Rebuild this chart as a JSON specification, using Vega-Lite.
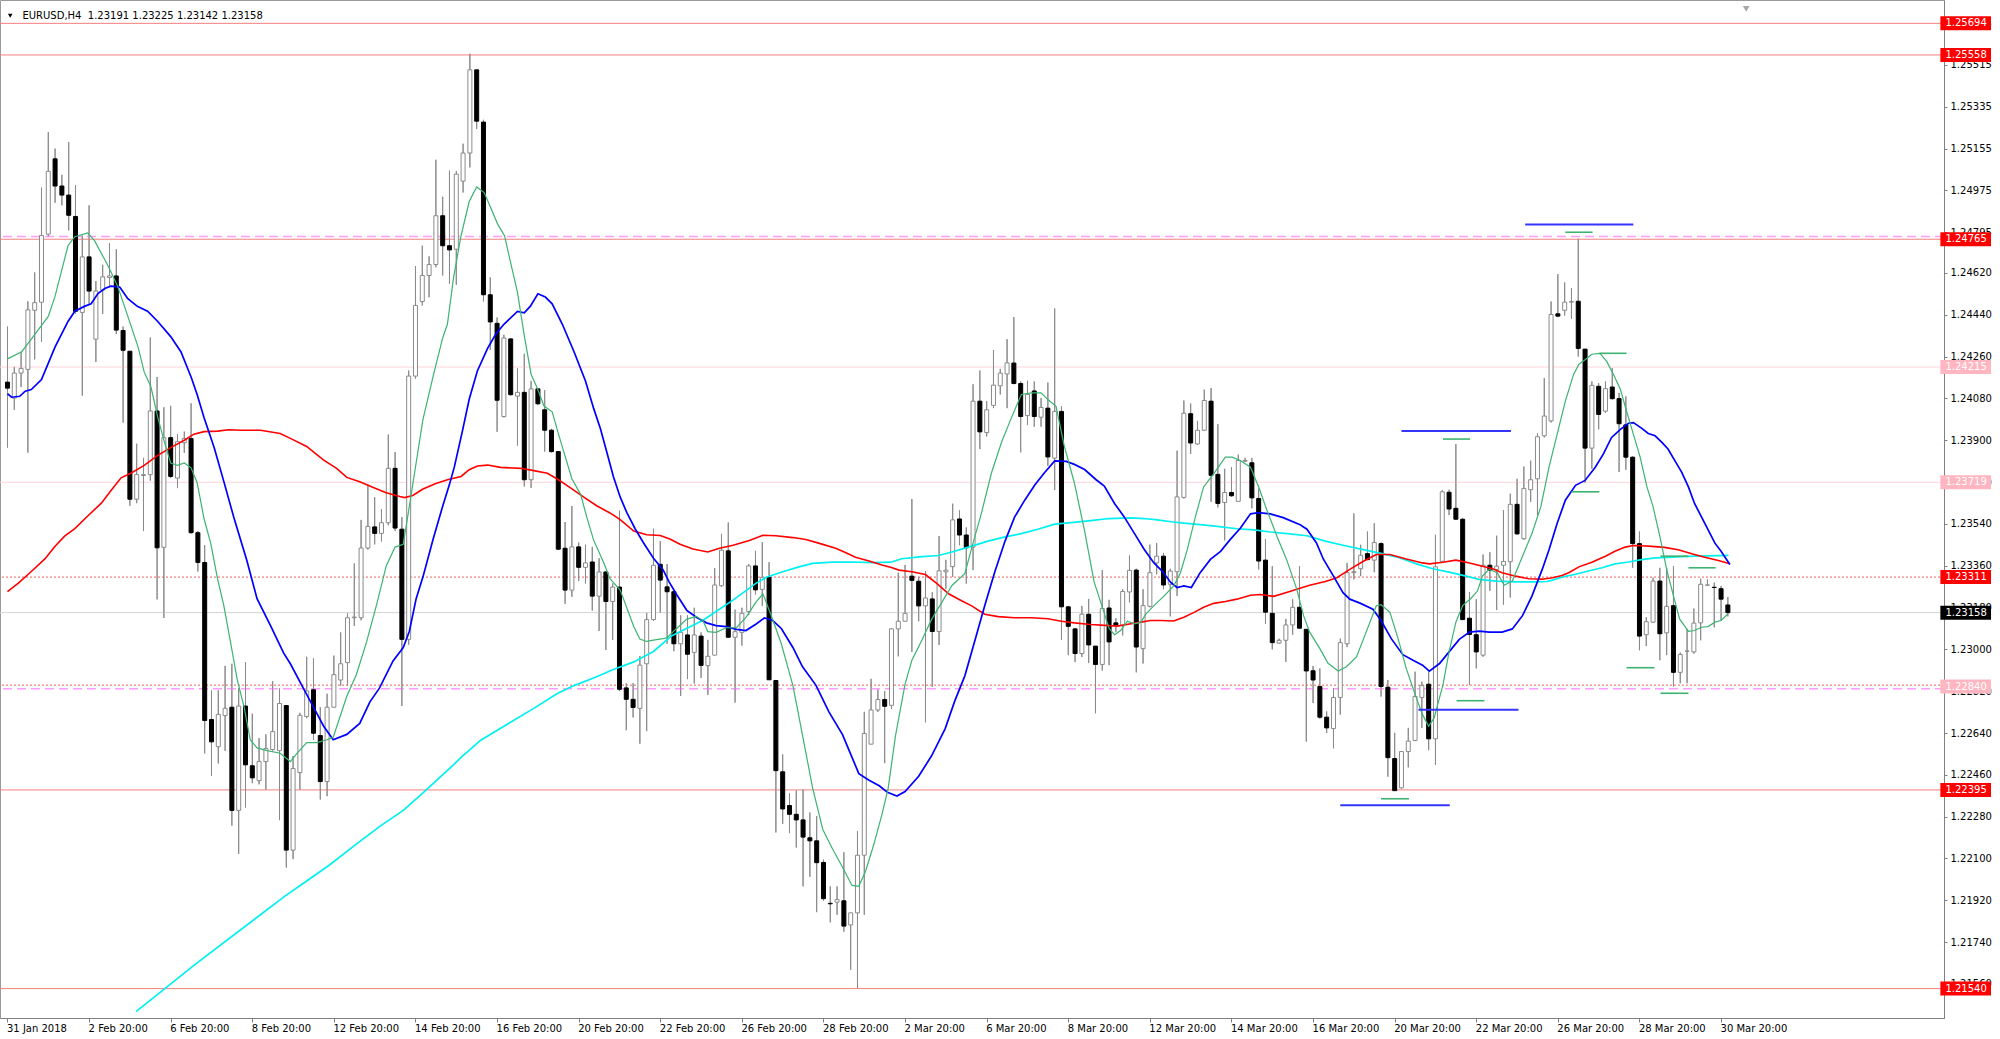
{
"$schema":"https://vega.github.io/schema/vega-lite/v6.json",
"width":1944,"height":1018,
"autosize":{"type":"none"},
"padding":{"left":0,"top":0,"right":56,"bottom":21},
"background":"#ffffff",
"config":{"view":{"stroke":"#9a9a9a","strokeWidth":1},"font":"DejaVu Sans","text":{"font":"DejaVu Sans"}},
"datasets":{
"candles":[
{"i":0,"o":1.2415,"h":1.24389,"l":1.23868,"c":1.24124},
{"i":1,"o":1.24081,"h":1.24216,"l":1.24031,"c":1.24189},
{"i":2,"o":1.24189,"h":1.24281,"l":1.24129,"c":1.24209},
{"i":3,"o":1.24205,"h":1.24498,"l":1.23846,"c":1.24461},
{"i":4,"o":1.24459,"h":1.24622,"l":1.24248,"c":1.24492},
{"i":5,"o":1.24494,"h":1.24987,"l":1.24324,"c":1.24781},
{"i":6,"o":1.24787,"h":1.25226,"l":1.24776,"c":1.25057},
{"i":7,"o":1.25111,"h":1.25155,"l":1.24922,"c":1.24994},
{"i":8,"o":1.24994,"h":1.25042,"l":1.24911,"c":1.24955},
{"i":9,"o":1.24955,"h":1.25183,"l":1.24803,"c":1.24868},
{"i":10,"o":1.24863,"h":1.24998,"l":1.24444,"c":1.24455},
{"i":11,"o":1.2445,"h":1.24781,"l":1.24092,"c":1.24689},
{"i":12,"o":1.24689,"h":1.24911,"l":1.24487,"c":1.24542},
{"i":13,"o":1.24335,"h":1.24585,"l":1.24237,"c":1.24542},
{"i":14,"o":1.24546,"h":1.24655,"l":1.24444,"c":1.24603},
{"i":15,"o":1.246,"h":1.24748,"l":1.24563,"c":1.24607},
{"i":16,"o":1.24607,"h":1.24722,"l":1.24357,"c":1.24374},
{"i":17,"o":1.24372,"h":1.24389,"l":1.23976,"c":1.24287},
{"i":18,"o":1.24283,"h":1.24283,"l":1.23618,"c":1.23646},
{"i":19,"o":1.23646,"h":1.23885,"l":1.23629,"c":1.23752},
{"i":20,"o":1.23748,"h":1.23824,"l":1.23509,"c":1.23752},
{"i":21,"o":1.23752,"h":1.24342,"l":1.23726,"c":1.24026},
{"i":22,"o":1.24026,"h":1.24172,"l":1.23215,"c":1.23437},
{"i":23,"o":1.23439,"h":1.24042,"l":1.23135,"c":1.23911},
{"i":24,"o":1.23911,"h":1.24048,"l":1.23737,"c":1.23744},
{"i":25,"o":1.23737,"h":1.23926,"l":1.23694,"c":1.23894},
{"i":26,"o":1.23889,"h":1.23937,"l":1.23846,"c":1.23907},
{"i":27,"o":1.23907,"h":1.24059,"l":1.23498,"c":1.23502},
{"i":28,"o":1.23502,"h":1.23509,"l":1.23335,"c":1.23374},
{"i":29,"o":1.23374,"h":1.23448,"l":1.22552,"c":1.22694},
{"i":30,"o":1.22698,"h":1.22824,"l":1.22455,"c":1.22602},
{"i":31,"o":1.22581,"h":1.22824,"l":1.22509,"c":1.2272},
{"i":32,"o":1.22715,"h":1.22929,"l":1.22563,"c":1.22746},
{"i":33,"o":1.22751,"h":1.22938,"l":1.22241,"c":1.22307},
{"i":34,"o":1.22307,"h":1.22833,"l":1.2212,"c":1.22756},
{"i":35,"o":1.22756,"h":1.22945,"l":1.22319,"c":1.22503},
{"i":36,"o":1.22499,"h":1.22723,"l":1.22424,"c":1.22447},
{"i":37,"o":1.22435,"h":1.22618,"l":1.22419,"c":1.22517},
{"i":38,"o":1.22517,"h":1.22634,"l":1.22396,"c":1.22573},
{"i":39,"o":1.22569,"h":1.22863,"l":1.22564,"c":1.22646},
{"i":40,"o":1.22564,"h":1.22833,"l":1.22265,"c":1.22767},
{"i":41,"o":1.22758,"h":1.22758,"l":1.22061,"c":1.22136},
{"i":42,"o":1.22136,"h":1.22541,"l":1.22097,"c":1.22487},
{"i":43,"o":1.2247,"h":1.22727,"l":1.22396,"c":1.22716},
{"i":44,"o":1.22711,"h":1.22968,"l":1.22704,"c":1.22821},
{"i":45,"o":1.22826,"h":1.22961,"l":1.22611,"c":1.22639},
{"i":46,"o":1.22629,"h":1.22751,"l":1.22354,"c":1.22431},
{"i":47,"o":1.22431,"h":1.22809,"l":1.22368,"c":1.22751},
{"i":48,"o":1.22751,"h":1.22973,"l":1.22751,"c":1.22891},
{"i":49,"o":1.22868,"h":1.23073,"l":1.22844,"c":1.22938},
{"i":50,"o":1.22943,"h":1.23155,"l":1.22844,"c":1.23136},
{"i":51,"o":1.23136,"h":1.2337,"l":1.23101,"c":1.23139},
{"i":52,"o":1.23136,"h":1.23557,"l":1.23125,"c":1.23436},
{"i":53,"o":1.23436,"h":1.23709,"l":1.23429,"c":1.23529},
{"i":54,"o":1.23527,"h":1.23655,"l":1.23452,"c":1.23499},
{"i":55,"o":1.23499,"h":1.23604,"l":1.23464,"c":1.23545},
{"i":56,"o":1.23545,"h":1.23924,"l":1.23534,"c":1.23779},
{"i":57,"o":1.23779,"h":1.23849,"l":1.2351,"c":1.23522},
{"i":58,"o":1.23517,"h":1.23569,"l":1.22756,"c":1.23043},
{"i":59,"o":1.23043,"h":1.242,"l":1.2302,"c":1.24176},
{"i":60,"o":1.24176,"h":1.24649,"l":1.24165,"c":1.2448},
{"i":61,"o":1.24497,"h":1.24737,"l":1.2448,"c":1.24609},
{"i":62,"o":1.24609,"h":1.24691,"l":1.24515,"c":1.24656},
{"i":63,"o":1.24656,"h":1.25107,"l":1.24644,"c":1.24866},
{"i":64,"o":1.24866,"h":1.24948,"l":1.24609,"c":1.24737},
{"i":65,"o":1.24737,"h":1.2506,"l":1.24574,"c":1.24719},
{"i":66,"o":1.24722,"h":1.25058,"l":1.24569,"c":1.25045},
{"i":67,"o":1.25015,"h":1.25176,"l":1.24966,"c":1.25136},
{"i":68,"o":1.25136,"h":1.25563,"l":1.25074,"c":1.25494},
{"i":69,"o":1.25494,"h":1.25494,"l":1.2524,"c":1.25273},
{"i":70,"o":1.25269,"h":1.25279,"l":1.24497,"c":1.24526},
{"i":71,"o":1.24526,"h":1.24601,"l":1.24288,"c":1.24409},
{"i":72,"o":1.24403,"h":1.24428,"l":1.23936,"c":1.24072},
{"i":73,"o":1.24002,"h":1.24354,"l":1.23998,"c":1.2434},
{"i":74,"o":1.24336,"h":1.2434,"l":1.24092,"c":1.24096},
{"i":75,"o":1.2409,"h":1.24209,"l":1.23877,"c":1.24106},
{"i":76,"o":1.24106,"h":1.24272,"l":1.23701,"c":1.2373},
{"i":77,"o":1.2373,"h":1.24155,"l":1.23695,"c":1.24121},
{"i":78,"o":1.24121,"h":1.24121,"l":1.24051,"c":1.24057},
{"i":79,"o":1.24031,"h":1.24115,"l":1.23851,"c":1.23943},
{"i":80,"o":1.23943,"h":1.23949,"l":1.23847,"c":1.23851},
{"i":81,"o":1.23851,"h":1.23851,"l":1.23427,"c":1.23431},
{"i":82,"o":1.23435,"h":1.23548,"l":1.23196,"c":1.23255},
{"i":83,"o":1.23255,"h":1.23617,"l":1.23226,"c":1.23441},
{"i":84,"o":1.23441,"h":1.2346,"l":1.23294,"c":1.23353},
{"i":85,"o":1.23353,"h":1.2345,"l":1.23284,"c":1.23372},
{"i":86,"o":1.23376,"h":1.23441,"l":1.23167,"c":1.23229},
{"i":87,"o":1.23229,"h":1.23392,"l":1.23079,"c":1.23333},
{"i":88,"o":1.23333,"h":1.23337,"l":1.22997,"c":1.23206},
{"i":89,"o":1.23206,"h":1.23284,"l":1.2304,"c":1.23268},
{"i":90,"o":1.23268,"h":1.23597,"l":1.2282,"c":1.22828},
{"i":91,"o":1.22834,"h":1.22854,"l":1.22652,"c":1.22785},
{"i":92,"o":1.22785,"h":1.22854,"l":1.22707,"c":1.2275},
{"i":93,"o":1.22746,"h":1.22971,"l":1.22594,"c":1.22932},
{"i":94,"o":1.22938,"h":1.23157,"l":1.22648,"c":1.23128},
{"i":95,"o":1.23128,"h":1.23519,"l":1.23122,"c":1.23362},
{"i":96,"o":1.23366,"h":1.23466,"l":1.23157,"c":1.23298},
{"i":97,"o":1.23269,"h":1.23367,"l":1.23024,"c":1.23248},
{"i":98,"o":1.23248,"h":1.23253,"l":1.22992,"c":1.23024},
{"i":99,"o":1.23024,"h":1.23147,"l":1.22799,"c":1.23073},
{"i":100,"o":1.23062,"h":1.23147,"l":1.22872,"c":1.22979},
{"i":101,"o":1.22987,"h":1.23179,"l":1.22853,"c":1.23062},
{"i":102,"o":1.23057,"h":1.23073,"l":1.22877,"c":1.22931},
{"i":103,"o":1.2293,"h":1.23041,"l":1.22804,"c":1.2297},
{"i":104,"o":1.22975,"h":1.2335,"l":1.22975,"c":1.23277},
{"i":105,"o":1.23274,"h":1.23497,"l":1.23269,"c":1.23427},
{"i":106,"o":1.23424,"h":1.23546,"l":1.23049,"c":1.23052},
{"i":107,"o":1.23052,"h":1.23171,"l":1.22771,"c":1.23076},
{"i":108,"o":1.23073,"h":1.23179,"l":1.23016,"c":1.23155},
{"i":109,"o":1.23163,"h":1.23367,"l":1.23147,"c":1.23359},
{"i":110,"o":1.23359,"h":1.23424,"l":1.23236,"c":1.23256},
{"i":111,"o":1.23258,"h":1.23461,"l":1.23187,"c":1.2331},
{"i":112,"o":1.2331,"h":1.23375,"l":1.22869,"c":1.22869},
{"i":113,"o":1.22866,"h":1.22866,"l":1.22212,"c":1.22478},
{"i":114,"o":1.22473,"h":1.22548,"l":1.22249,"c":1.22313},
{"i":115,"o":1.22328,"h":1.2238,"l":1.22209,"c":1.2229},
{"i":116,"o":1.2229,"h":1.22393,"l":1.22147,"c":1.22266},
{"i":117,"o":1.22266,"h":1.22396,"l":1.2198,"c":1.22192},
{"i":118,"o":1.22189,"h":1.22298,"l":1.22021,"c":1.22176},
{"i":119,"o":1.22176,"h":1.22282,"l":1.21869,"c":1.22082},
{"i":120,"o":1.22083,"h":1.22095,"l":1.21918,"c":1.21927},
{"i":121,"o":1.21907,"h":1.2198,"l":1.21825,"c":1.21905},
{"i":122,"o":1.21912,"h":1.2198,"l":1.21858,"c":1.21923},
{"i":123,"o":1.21918,"h":1.22127,"l":1.21785,"c":1.21809},
{"i":124,"o":1.21814,"h":1.21866,"l":1.21621,"c":1.21866},
{"i":125,"o":1.21866,"h":1.22217,"l":1.2154,"c":1.22114},
{"i":126,"o":1.22114,"h":1.22731,"l":1.21858,"c":1.22638},
{"i":127,"o":1.22592,"h":1.22873,"l":1.22592,"c":1.22739},
{"i":128,"o":1.22739,"h":1.22828,"l":1.22731,"c":1.22784},
{"i":129,"o":1.22784,"h":1.2282,"l":1.2251,"c":1.22755},
{"i":130,"o":1.22759,"h":1.23092,"l":1.22744,"c":1.23088},
{"i":131,"o":1.23088,"h":1.2333,"l":1.2297,"c":1.23121},
{"i":132,"o":1.23121,"h":1.23363,"l":1.23121,"c":1.23155},
{"i":133,"o":1.23315,"h":1.23647,"l":1.22989,"c":1.23297},
{"i":134,"o":1.23293,"h":1.23312,"l":1.23121,"c":1.23187},
{"i":135,"o":1.23187,"h":1.23337,"l":1.22686,"c":1.23221},
{"i":136,"o":1.23217,"h":1.23246,"l":1.22838,"c":1.23077},
{"i":137,"o":1.23077,"h":1.23488,"l":1.23019,"c":1.23338},
{"i":138,"o":1.23334,"h":1.23385,"l":1.23261,"c":1.23341},
{"i":139,"o":1.23356,"h":1.23627,"l":1.23312,"c":1.23557},
{"i":140,"o":1.23561,"h":1.23598,"l":1.23448,"c":1.23492},
{"i":141,"o":1.23492,"h":1.23525,"l":1.23283,"c":1.23437},
{"i":142,"o":1.2344,"h":1.24141,"l":1.23341,"c":1.24068},
{"i":143,"o":1.24068,"h":1.242,"l":1.23862,"c":1.23936},
{"i":144,"o":1.23933,"h":1.24068,"l":1.23916,"c":1.24031},
{"i":145,"o":1.2405,"h":1.24288,"l":1.24038,"c":1.24137},
{"i":146,"o":1.24134,"h":1.24207,"l":1.24097,"c":1.24189},
{"i":147,"o":1.24185,"h":1.24335,"l":1.24038,"c":1.24233},
{"i":148,"o":1.24232,"h":1.2443,"l":1.24141,"c":1.24144},
{"i":149,"o":1.24144,"h":1.24153,"l":1.23848,"c":1.24002},
{"i":150,"o":1.24006,"h":1.24156,"l":1.23965,"c":1.24097},
{"i":151,"o":1.24112,"h":1.24153,"l":1.23958,"c":1.24002},
{"i":152,"o":1.23999,"h":1.24082,"l":1.23958,"c":1.24041},
{"i":153,"o":1.24038,"h":1.24148,"l":1.23789,"c":1.23828},
{"i":154,"o":1.23823,"h":1.24467,"l":1.23686,"c":1.24024},
{"i":155,"o":1.24024,"h":1.24046,"l":1.23041,"c":1.23183},
{"i":156,"o":1.23183,"h":1.23187,"l":1.22975,"c":1.23099},
{"i":157,"o":1.23088,"h":1.23092,"l":1.22945,"c":1.22982},
{"i":158,"o":1.22982,"h":1.23187,"l":1.22967,"c":1.23151},
{"i":159,"o":1.23151,"h":1.23217,"l":1.22941,"c":1.23019},
{"i":160,"o":1.23014,"h":1.23014,"l":1.22725,"c":1.22935},
{"i":161,"o":1.22935,"h":1.23341,"l":1.22909,"c":1.23176},
{"i":162,"o":1.23178,"h":1.23213,"l":1.22932,"c":1.23032},
{"i":163,"o":1.23114,"h":1.23134,"l":1.23074,"c":1.23105},
{"i":164,"o":1.23103,"h":1.23259,"l":1.2306,"c":1.23249},
{"i":165,"o":1.23247,"h":1.23404,"l":1.23202,"c":1.2334},
{"i":166,"o":1.23341,"h":1.23347,"l":1.22901,"c":1.2301},
{"i":167,"o":1.23003,"h":1.23259,"l":1.22939,"c":1.23188},
{"i":168,"o":1.23185,"h":1.23451,"l":1.23181,"c":1.2333},
{"i":169,"o":1.23372,"h":1.23458,"l":1.23323,"c":1.23401},
{"i":170,"o":1.23401,"h":1.23415,"l":1.23259,"c":1.23277},
{"i":171,"o":1.2328,"h":1.23347,"l":1.23142,"c":1.23337},
{"i":172,"o":1.23334,"h":1.23855,"l":1.2323,"c":1.23656},
{"i":173,"o":1.23654,"h":1.24071,"l":1.23649,"c":1.24016},
{"i":174,"o":1.24014,"h":1.24058,"l":1.23841,"c":1.23888},
{"i":175,"o":1.23884,"h":1.23983,"l":1.23881,"c":1.23943},
{"i":176,"o":1.23943,"h":1.24118,"l":1.2394,"c":1.24071},
{"i":177,"o":1.24068,"h":1.24125,"l":1.23635,"c":1.23749},
{"i":178,"o":1.23753,"h":1.23969,"l":1.23611,"c":1.23628},
{"i":179,"o":1.23632,"h":1.23777,"l":1.23469,"c":1.23675},
{"i":180,"o":1.23675,"h":1.23784,"l":1.23656,"c":1.23661},
{"i":181,"o":1.23637,"h":1.23838,"l":1.23635,"c":1.23813},
{"i":182,"o":1.2381,"h":1.23824,"l":1.23806,"c":1.23813},
{"i":183,"o":1.23803,"h":1.23824,"l":1.23607,"c":1.23652},
{"i":184,"o":1.23649,"h":1.23692,"l":1.23344,"c":1.2338},
{"i":185,"o":1.23384,"h":1.23475,"l":1.2311,"c":1.2316},
{"i":186,"o":1.23155,"h":1.23358,"l":1.23,"c":1.23029},
{"i":187,"o":1.23027,"h":1.23046,"l":1.23024,"c":1.23039},
{"i":188,"o":1.23039,"h":1.23131,"l":1.22946,"c":1.23105},
{"i":189,"o":1.23105,"h":1.23216,"l":1.23063,"c":1.23181},
{"i":190,"o":1.23181,"h":1.23358,"l":1.23088,"c":1.23091},
{"i":191,"o":1.23086,"h":1.23088,"l":1.22603,"c":1.22907},
{"i":192,"o":1.22908,"h":1.22929,"l":1.22769,"c":1.22868},
{"i":193,"o":1.2284,"h":1.22918,"l":1.22702,"c":1.22708},
{"i":194,"o":1.22708,"h":1.22733,"l":1.22641,"c":1.22662},
{"i":195,"o":1.22659,"h":1.22833,"l":1.22574,"c":1.22793},
{"i":196,"o":1.22793,"h":1.23046,"l":1.22719,"c":1.23029},
{"i":197,"o":1.23024,"h":1.23372,"l":1.2301,"c":1.2333},
{"i":198,"o":1.2333,"h":1.23585,"l":1.23301,"c":1.23334},
{"i":199,"o":1.23347,"h":1.2345,"l":1.23315,"c":1.23405},
{"i":200,"o":1.23412,"h":1.23507,"l":1.23384,"c":1.23386},
{"i":201,"o":1.23384,"h":1.23543,"l":1.23332,"c":1.2346},
{"i":202,"o":1.23455,"h":1.2346,"l":1.22797,"c":1.2284},
{"i":203,"o":1.22837,"h":1.22868,"l":1.22452,"c":1.22534},
{"i":204,"o":1.2253,"h":1.22641,"l":1.2239,"c":1.22392},
{"i":205,"o":1.22404,"h":1.2256,"l":1.224,"c":1.2256},
{"i":206,"o":1.2256,"h":1.22662,"l":1.22492,"c":1.22605},
{"i":207,"o":1.22608,"h":1.22904,"l":1.22605,"c":1.22797},
{"i":208,"o":1.22793,"h":1.22861,"l":1.22662,"c":1.22844},
{"i":209,"o":1.2285,"h":1.22904,"l":1.22566,"c":1.22615},
{"i":210,"o":1.22615,"h":1.23493,"l":1.22503,"c":1.23355},
{"i":211,"o":1.23379,"h":1.23685,"l":1.23372,"c":1.23678},
{"i":212,"o":1.23676,"h":1.23687,"l":1.23578,"c":1.23604},
{"i":213,"o":1.23607,"h":1.23883,"l":1.23557,"c":1.2356},
{"i":214,"o":1.2356,"h":1.23564,"l":1.23127,"c":1.23128},
{"i":215,"o":1.23134,"h":1.23247,"l":1.22847,"c":1.23064},
{"i":216,"o":1.23063,"h":1.23216,"l":1.22918,"c":1.22989},
{"i":217,"o":1.22975,"h":1.23408,"l":1.22968,"c":1.23362},
{"i":218,"o":1.23362,"h":1.23418,"l":1.23252,"c":1.23341},
{"i":219,"o":1.23344,"h":1.23489,"l":1.23169,"c":1.23358},
{"i":220,"o":1.23362,"h":1.23599,"l":1.23192,"c":1.23378},
{"i":221,"o":1.23377,"h":1.2367,"l":1.23223,"c":1.23624},
{"i":222,"o":1.23624,"h":1.23734,"l":1.23493,"c":1.23497},
{"i":223,"o":1.23476,"h":1.23787,"l":1.23472,"c":1.23692},
{"i":224,"o":1.23687,"h":1.23812,"l":1.23635,"c":1.2373},
{"i":225,"o":1.23734,"h":1.23929,"l":1.23578,"c":1.23915},
{"i":226,"o":1.23919,"h":1.24167,"l":1.23912,"c":1.24004},
{"i":227,"o":1.23983,"h":1.24497,"l":1.23976,"c":1.24441},
{"i":228,"o":1.24444,"h":1.24615,"l":1.2443,"c":1.24434},
{"i":229,"o":1.24459,"h":1.24579,"l":1.24437,"c":1.24494},
{"i":230,"o":1.24494,"h":1.24554,"l":1.24423,"c":1.24497},
{"i":231,"o":1.24498,"h":1.24767,"l":1.2426,"c":1.24295},
{"i":232,"o":1.24292,"h":1.24292,"l":1.23716,"c":1.23866},
{"i":233,"o":1.23866,"h":1.24153,"l":1.23777,"c":1.24136},
{"i":234,"o":1.24132,"h":1.24146,"l":1.23947,"c":1.24011},
{"i":235,"o":1.24025,"h":1.24153,"l":1.24018,"c":1.24122},
{"i":236,"o":1.24129,"h":1.2421,"l":1.24075,"c":1.24079},
{"i":237,"o":1.24079,"h":1.24104,"l":1.23763,"c":1.23971},
{"i":238,"o":1.23966,"h":1.24089,"l":1.23773,"c":1.23827},
{"i":239,"o":1.23827,"h":1.2383,"l":1.23351,"c":1.23455},
{"i":240,"o":1.23455,"h":1.23507,"l":1.22996,"c":1.23057},
{"i":241,"o":1.23063,"h":1.23138,"l":1.23014,"c":1.23119},
{"i":242,"o":1.23117,"h":1.23308,"l":1.23114,"c":1.23294},
{"i":243,"o":1.23294,"h":1.23351,"l":1.22953,"c":1.23067},
{"i":244,"o":1.23071,"h":1.23351,"l":1.22975,"c":1.23185},
{"i":245,"o":1.23188,"h":1.23358,"l":1.2284,"c":1.22901},
{"i":246,"o":1.22901,"h":1.22986,"l":1.22854,"c":1.22978},
{"i":247,"o":1.22992,"h":1.23088,"l":1.22854,"c":1.22993},
{"i":248,"o":1.22989,"h":1.23176,"l":1.22982,"c":1.23113},
{"i":249,"o":1.23114,"h":1.23304,"l":1.23039,"c":1.2328},
{"i":250,"o":1.23276,"h":1.23301,"l":1.23273,"c":1.23277},
{"i":251,"o":1.23267,"h":1.23287,"l":1.23095,"c":1.23266},
{"i":252,"o":1.23261,"h":1.23273,"l":1.23124,"c":1.23216},
{"i":253,"o":1.23191,"h":1.23225,"l":1.23142,"c":1.23158}
],
"green":[
{"i":0,"p":1.2425},{"i":2.1,"p":1.24281},{"i":3.5,"p":1.24335},{"i":6.0,"p":1.24433},{"i":7.0,"p":1.2452},{"i":8.9,"p":1.24737},{"i":9.9,"p":1.24776},{"i":11.8,"p":1.24792},{"i":12.8,"p":1.24759},{"i":14.8,"p":1.2465},{"i":16.2,"p":1.24563},{"i":17.7,"p":1.24433},{"i":19.2,"p":1.24302},{"i":20.1,"p":1.24194},{"i":21.1,"p":1.24129},{"i":22.1,"p":1.23998},{"i":23.1,"p":1.2389},{"i":24.0,"p":1.23802},{"i":25.0,"p":1.23792},{"i":26.0,"p":1.23802},{"i":27.0,"p":1.23781},{"i":27.9,"p":1.23716},{"i":28.9,"p":1.23563},{"i":29.9,"p":1.23455},{"i":30.9,"p":1.23302},{"i":31.8,"p":1.2319},{"i":32.8,"p":1.23031},{"i":33.8,"p":1.22868},{"i":34.8,"p":1.22751},{"i":35.7,"p":1.22611},{"i":36.7,"p":1.22576},{"i":38.2,"p":1.22564},{"i":40.1,"p":1.22553},{"i":41.6,"p":1.22517},{"i":42.6,"p":1.22553},{"i":44.0,"p":1.22599},{"i":45.5,"p":1.22599},{"i":47.0,"p":1.22611},{"i":47.9,"p":1.22622},{"i":49.9,"p":1.22798},{"i":51.3,"p":1.22891},{"i":52.8,"p":1.23031},{"i":54.3,"p":1.23195},{"i":55.7,"p":1.23359},{"i":57.0,"p":1.2344},{"i":58.2,"p":1.23452},{"i":59.1,"p":1.23616},{"i":60.1,"p":1.23803},{"i":61.1,"p":1.2399},{"i":62.6,"p":1.24176},{"i":64.0,"p":1.2434},{"i":64.7,"p":1.244},{"i":65.6,"p":1.246},{"i":66.7,"p":1.2478},{"i":67.9,"p":1.24927},{"i":69.0,"p":1.2499},{"i":70.1,"p":1.24966},{"i":71.1,"p":1.24898},{"i":72.1,"p":1.24829},{"i":73.1,"p":1.2478},{"i":74.0,"p":1.24663},{"i":75.0,"p":1.24536},{"i":76.0,"p":1.2435},{"i":77.0,"p":1.24184},{"i":77.9,"p":1.24125},{"i":78.9,"p":1.24047},{"i":80.1,"p":1.24022},{"i":81.1,"p":1.2392},{"i":82.1,"p":1.23822},{"i":83.0,"p":1.23734},{"i":84.3,"p":1.23666},{"i":85.2,"p":1.23568},{"i":86.2,"p":1.2347},{"i":87.7,"p":1.23372},{"i":88.6,"p":1.23304},{"i":90.1,"p":1.23255},{"i":91.1,"p":1.23177},{"i":92.1,"p":1.23098},{"i":93.0,"p":1.23044},{"i":94.0,"p":1.23034},{"i":95.0,"p":1.2304},{"i":96.4,"p":1.23046},{"i":97.0,"p":1.2305},{"i":98.4,"p":1.2309},{"i":99.9,"p":1.2313},{"i":101.3,"p":1.23142},{"i":102.3,"p":1.23122},{"i":103.0,"p":1.23076},{"i":104.2,"p":1.23073},{"i":105.7,"p":1.23093},{"i":107.2,"p":1.23093},{"i":108.6,"p":1.23138},{"i":110.1,"p":1.23204},{"i":111.1,"p":1.23239},{"i":112.3,"p":1.23147},{"i":113.8,"p":1.23024},{"i":115.5,"p":1.22845},{"i":116.9,"p":1.22633},{"i":118.4,"p":1.22404},{"i":119.9,"p":1.22225},{"i":121.3,"p":1.22143},{"i":122.8,"p":1.22062},{"i":124.2,"p":1.21984},{"i":125.2,"p":1.2198},{"i":126.2,"p":1.22046},{"i":127.4,"p":1.2216},{"i":128.6,"p":1.2229},{"i":129.5,"p":1.224},{"i":130.6,"p":1.2263},{"i":132.0,"p":1.2285},{"i":133.0,"p":1.22953},{"i":134.5,"p":1.23041},{"i":135.9,"p":1.23129},{"i":137.4,"p":1.23202},{"i":138.9,"p":1.23275},{"i":140.8,"p":1.23327},{"i":141.8,"p":1.23437},{"i":143.2,"p":1.23583},{"i":144.7,"p":1.23759},{"i":146.2,"p":1.23892},{"i":147.6,"p":1.23994},{"i":149.1,"p":1.24097},{"i":150.6,"p":1.24104},{"i":152.0,"p":1.24104},{"i":153.0,"p":1.24075},{"i":154.2,"p":1.24046},{"i":155.4,"p":1.23877},{"i":156.9,"p":1.23716},{"i":158.4,"p":1.2351},{"i":159.8,"p":1.2329},{"i":161.1,"p":1.23173},{"i":162.0,"p":1.2309},{"i":162.8,"p":1.23063},{"i":163.7,"p":1.23081},{"i":164.7,"p":1.23121},{"i":165.7,"p":1.2311},{"i":166.7,"p":1.23117},{"i":167.4,"p":1.23152},{"i":168.6,"p":1.23188},{"i":170.1,"p":1.2323},{"i":171.5,"p":1.23273},{"i":172.5,"p":1.2333},{"i":173.5,"p":1.23429},{"i":174.7,"p":1.23571},{"i":175.9,"p":1.23699},{"i":177.4,"p":1.23756},{"i":179.1,"p":1.23827},{"i":180.1,"p":1.23827},{"i":181.3,"p":1.23813},{"i":182.8,"p":1.23784},{"i":184.0,"p":1.23699},{"i":185.2,"p":1.236},{"i":186.7,"p":1.23486},{"i":188.1,"p":1.23387},{"i":189.6,"p":1.23259},{"i":190.6,"p":1.23145},{"i":191.5,"p":1.23074},{"i":193.0,"p":1.23003},{"i":194.2,"p":1.2294},{"i":195.7,"p":1.22907},{"i":196.9,"p":1.22925},{"i":198.4,"p":1.22968},{"i":199.8,"p":1.23074},{"i":201.3,"p":1.23188},{"i":202.0,"p":1.23192},{"i":203.3,"p":1.23159},{"i":204.5,"p":1.23046},{"i":205.7,"p":1.22918},{"i":207.2,"p":1.2279},{"i":208.1,"p":1.22719},{"i":209.0,"p":1.22669},{"i":209.8,"p":1.22705},{"i":211.1,"p":1.22847},{"i":212.0,"p":1.22989},{"i":213.0,"p":1.23117},{"i":214.0,"p":1.23188},{"i":215.2,"p":1.23219},{"i":216.2,"p":1.23252},{"i":216.9,"p":1.23315},{"i":217.9,"p":1.23344},{"i":219.1,"p":1.2333},{"i":220.1,"p":1.23276},{"i":221.3,"p":1.23294},{"i":222.8,"p":1.23401},{"i":224.2,"p":1.235},{"i":225.5,"p":1.23614},{"i":226.7,"p":1.23784},{"i":227.9,"p":1.23926},{"i":229.1,"p":1.24068},{"i":230.3,"p":1.24182},{"i":231.1,"p":1.24227},{"i":232.0,"p":1.24246},{"i":233.0,"p":1.2427},{"i":234.2,"p":1.24274},{"i":235.2,"p":1.24238},{"i":236.2,"p":1.24182},{"i":237.2,"p":1.24118},{"i":238.1,"p":1.24025},{"i":239.1,"p":1.23926},{"i":240.1,"p":1.23827},{"i":241.1,"p":1.23699},{"i":242.0,"p":1.23614},{"i":243.0,"p":1.23486},{"i":244.0,"p":1.23344},{"i":245.0,"p":1.2323},{"i":245.9,"p":1.23131},{"i":247.2,"p":1.23077},{"i":248.1,"p":1.23081},{"i":249.1,"p":1.23095},{"i":250.1,"p":1.23098},{"i":251.1,"p":1.23117},{"i":252.0,"p":1.23124},{"i":253.0,"p":1.23152}
],
"blue":[
{"i":0,"p":1.241},{"i":0.6,"p":1.24085},{"i":1.8,"p":1.24089},{"i":2.6,"p":1.24111},{"i":3.5,"p":1.24118},{"i":5.0,"p":1.24161},{"i":7.0,"p":1.24302},{"i":8.9,"p":1.24411},{"i":9.9,"p":1.24455},{"i":11.3,"p":1.24476},{"i":12.3,"p":1.24487},{"i":13.3,"p":1.24531},{"i":14.3,"p":1.24553},{"i":15.2,"p":1.24563},{"i":16.5,"p":1.24559},{"i":17.7,"p":1.24509},{"i":19.1,"p":1.24476},{"i":20.6,"p":1.24455},{"i":22.1,"p":1.24411},{"i":24.0,"p":1.24346},{"i":25.5,"p":1.24281},{"i":27.0,"p":1.24172},{"i":27.9,"p":1.24096},{"i":28.9,"p":1.23998},{"i":30.4,"p":1.23868},{"i":31.8,"p":1.23724},{"i":33.3,"p":1.23566},{"i":35.2,"p":1.23382},{"i":36.7,"p":1.23218},{"i":38.7,"p":1.23101},{"i":40.6,"p":1.22985},{"i":41.6,"p":1.22938},{"i":43.5,"p":1.22833},{"i":45.0,"p":1.22751},{"i":46.5,"p":1.22669},{"i":47.9,"p":1.22611},{"i":49.9,"p":1.22634},{"i":51.8,"p":1.22681},{"i":53.3,"p":1.22774},{"i":54.7,"p":1.22833},{"i":56.7,"p":1.2295},{"i":58.2,"p":1.23008},{"i":59.1,"p":1.23078},{"i":60.1,"p":1.23218},{"i":61.1,"p":1.23312},{"i":62.6,"p":1.23475},{"i":64.0,"p":1.23616},{"i":65.0,"p":1.2371},{"i":65.7,"p":1.23783},{"i":66.9,"p":1.23939},{"i":67.9,"p":1.24076},{"i":69.1,"p":1.24198},{"i":70.6,"p":1.24295},{"i":71.8,"p":1.24356},{"i":73.0,"p":1.24399},{"i":75.0,"p":1.24454},{"i":76.0,"p":1.24448},{"i":76.9,"p":1.24477},{"i":78.0,"p":1.2453},{"i":79.1,"p":1.24516},{"i":80.1,"p":1.24487},{"i":81.6,"p":1.24399},{"i":83.3,"p":1.24282},{"i":85.0,"p":1.24155},{"i":86.2,"p":1.24037},{"i":87.2,"p":1.23949},{"i":88.2,"p":1.23842},{"i":89.1,"p":1.23744},{"i":90.1,"p":1.23656},{"i":91.1,"p":1.23587},{"i":92.3,"p":1.23519},{"i":93.5,"p":1.2346},{"i":95.0,"p":1.23392},{"i":96.4,"p":1.23343},{"i":97.3,"p":1.2329},{"i":98.4,"p":1.23236},{"i":99.9,"p":1.23168},{"i":101.3,"p":1.23138},{"i":102.8,"p":1.23114},{"i":104.2,"p":1.23102},{"i":105.7,"p":1.23098},{"i":107.2,"p":1.23086},{"i":108.6,"p":1.23081},{"i":110.1,"p":1.23109},{"i":111.3,"p":1.23135},{"i":112.5,"p":1.23125},{"i":113.8,"p":1.2309},{"i":115.5,"p":1.23008},{"i":116.9,"p":1.22926},{"i":118.9,"p":1.22845},{"i":120.8,"p":1.22731},{"i":122.8,"p":1.22633},{"i":124.2,"p":1.22535},{"i":125.2,"p":1.22465},{"i":126.7,"p":1.22437},{"i":128.2,"p":1.22413},{"i":129.4,"p":1.22385},{"i":130.8,"p":1.22369},{"i":132.0,"p":1.22388},{"i":134.0,"p":1.22454},{"i":135.9,"p":1.22542},{"i":137.9,"p":1.22659},{"i":139.3,"p":1.22777},{"i":140.8,"p":1.22887},{"i":142.3,"p":1.23041},{"i":143.7,"p":1.23187},{"i":145.2,"p":1.23334},{"i":146.7,"p":1.23466},{"i":148.1,"p":1.23569},{"i":149.6,"p":1.23642},{"i":151.1,"p":1.23708},{"i":152.5,"p":1.2376},{"i":154.0,"p":1.23811},{"i":155.7,"p":1.23809},{"i":156.9,"p":1.23796},{"i":158.4,"p":1.23774},{"i":160.1,"p":1.2373},{"i":161.3,"p":1.23703},{"i":162.8,"p":1.23628},{"i":164.2,"p":1.23571},{"i":165.7,"p":1.235},{"i":167.2,"p":1.23429},{"i":168.6,"p":1.23372},{"i":169.8,"p":1.23337},{"i":171.1,"p":1.23287},{"i":172.0,"p":1.23266},{"i":173.0,"p":1.23273},{"i":174.1,"p":1.23266},{"i":175.4,"p":1.2333},{"i":176.9,"p":1.23387},{"i":178.4,"p":1.23422},{"i":179.8,"p":1.23472},{"i":181.3,"p":1.23521},{"i":182.8,"p":1.23583},{"i":184.0,"p":1.23588},{"i":185.7,"p":1.23583},{"i":187.6,"p":1.23567},{"i":190.1,"p":1.23536},{"i":191.1,"p":1.23517},{"i":192.5,"p":1.23458},{"i":193.5,"p":1.23389},{"i":195.0,"p":1.23315},{"i":196.4,"p":1.23244},{"i":197.4,"p":1.23216},{"i":198.9,"p":1.23199},{"i":200.8,"p":1.23173},{"i":202.0,"p":1.23124},{"i":203.5,"p":1.23046},{"i":205.2,"p":1.22977},{"i":206.7,"p":1.22953},{"i":208.1,"p":1.22932},{"i":209.1,"p":1.22906},{"i":210.6,"p":1.22939},{"i":212.0,"p":1.22989},{"i":213.5,"p":1.23043},{"i":215.0,"p":1.23074},{"i":216.4,"p":1.23078},{"i":217.9,"p":1.23074},{"i":219.8,"p":1.23074},{"i":221.3,"p":1.23088},{"i":222.8,"p":1.23145},{"i":224.2,"p":1.2323},{"i":225.7,"p":1.23344},{"i":226.7,"p":1.23429},{"i":227.9,"p":1.23543},{"i":229.1,"p":1.23642},{"i":230.6,"p":1.23706},{"i":232.0,"p":1.23727},{"i":233.5,"p":1.23784},{"i":234.7,"p":1.23841},{"i":235.9,"p":1.23912},{"i":237.2,"p":1.23947},{"i":238.4,"p":1.23973},{"i":239.1,"p":1.23976},{"i":240.3,"p":1.23952},{"i":241.3,"p":1.23929},{"i":242.3,"p":1.23919},{"i":243.3,"p":1.23891},{"i":244.2,"p":1.23862},{"i":245.2,"p":1.23812},{"i":246.2,"p":1.23763},{"i":247.2,"p":1.23699},{"i":248.1,"p":1.23628},{"i":249.1,"p":1.23571},{"i":250.1,"p":1.23514},{"i":251.1,"p":1.23457},{"i":252.0,"p":1.23422},{"i":253.3,"p":1.23365}
],
"red":[
{"i":0,"p":1.23248},{"i":1.6,"p":1.23285},{"i":3.5,"p":1.23335},{"i":5.5,"p":1.23389},{"i":7.0,"p":1.23444},{"i":8.4,"p":1.23487},{"i":9.9,"p":1.2352},{"i":11.8,"p":1.23574},{"i":13.8,"p":1.23629},{"i":15.2,"p":1.23683},{"i":16.7,"p":1.23738},{"i":18.2,"p":1.23759},{"i":20.1,"p":1.23792},{"i":22.1,"p":1.23835},{"i":24.0,"p":1.23868},{"i":26.0,"p":1.239},{"i":27.4,"p":1.23926},{"i":28.9,"p":1.23937},{"i":30.9,"p":1.23939},{"i":32.5,"p":1.23945},{"i":34.3,"p":1.23943},{"i":37.2,"p":1.23943},{"i":40.1,"p":1.23929},{"i":41.6,"p":1.23908},{"i":44.0,"p":1.23873},{"i":46.5,"p":1.23814},{"i":48.4,"p":1.23779},{"i":49.9,"p":1.2374},{"i":51.8,"p":1.23721},{"i":53.8,"p":1.23697},{"i":55.7,"p":1.23674},{"i":57.7,"p":1.23658},{"i":58.4,"p":1.23653},{"i":59.6,"p":1.23662},{"i":61.1,"p":1.2369},{"i":63.0,"p":1.23714},{"i":64.7,"p":1.2373},{"i":66.7,"p":1.23744},{"i":67.9,"p":1.23773},{"i":69.1,"p":1.23789},{"i":70.6,"p":1.23793},{"i":72.5,"p":1.23783},{"i":75.5,"p":1.23779},{"i":77.4,"p":1.23769},{"i":79.4,"p":1.23758},{"i":80.8,"p":1.23734},{"i":82.8,"p":1.23695},{"i":84.7,"p":1.23656},{"i":86.7,"p":1.23617},{"i":88.6,"p":1.23587},{"i":90.1,"p":1.23558},{"i":92.1,"p":1.23509},{"i":94.0,"p":1.23493},{"i":96.0,"p":1.2349},{"i":97.5,"p":1.23474},{"i":98.9,"p":1.23452},{"i":100.8,"p":1.23432},{"i":103.0,"p":1.23419},{"i":104.7,"p":1.23435},{"i":106.7,"p":1.23448},{"i":109.1,"p":1.23468},{"i":111.1,"p":1.23491},{"i":113.0,"p":1.23489},{"i":115.5,"p":1.23481},{"i":117.4,"p":1.23473},{"i":119.4,"p":1.23456},{"i":121.8,"p":1.23435},{"i":123.3,"p":1.23416},{"i":124.7,"p":1.23396},{"i":126.7,"p":1.2338},{"i":128.6,"p":1.23363},{"i":130.0,"p":1.23352},{"i":131.1,"p":1.23341},{"i":133.0,"p":1.23334},{"i":135.0,"p":1.23322},{"i":136.7,"p":1.23283},{"i":138.4,"p":1.23239},{"i":140.3,"p":1.23209},{"i":141.8,"p":1.23187},{"i":143.7,"p":1.23151},{"i":145.7,"p":1.23141},{"i":148.1,"p":1.23136},{"i":150.6,"p":1.23136},{"i":153.0,"p":1.23132},{"i":155.0,"p":1.23121},{"i":156.9,"p":1.23114},{"i":159.3,"p":1.23107},{"i":162.0,"p":1.23102},{"i":163.2,"p":1.231},{"i":165.2,"p":1.2311},{"i":166.7,"p":1.23117},{"i":168.1,"p":1.23124},{"i":169.6,"p":1.23124},{"i":171.5,"p":1.23122},{"i":173.0,"p":1.23138},{"i":174.5,"p":1.23159},{"i":175.9,"p":1.23181},{"i":177.4,"p":1.23198},{"i":179.1,"p":1.23206},{"i":180.8,"p":1.23216},{"i":182.8,"p":1.23233},{"i":184.2,"p":1.23236},{"i":186.2,"p":1.23228},{"i":188.1,"p":1.23245},{"i":189.6,"p":1.23259},{"i":191.5,"p":1.23276},{"i":193.8,"p":1.23292},{"i":195.5,"p":1.23308},{"i":197.4,"p":1.23344},{"i":199.4,"p":1.23379},{"i":201.3,"p":1.23408},{"i":203.3,"p":1.23408},{"i":205.7,"p":1.23389},{"i":208.1,"p":1.23372},{"i":209.1,"p":1.23368},{"i":211.1,"p":1.23375},{"i":213.0,"p":1.23384},{"i":215.0,"p":1.23372},{"i":216.9,"p":1.23358},{"i":218.4,"p":1.23347},{"i":219.8,"p":1.2333},{"i":221.8,"p":1.23315},{"i":223.7,"p":1.23304},{"i":225.7,"p":1.23302},{"i":227.2,"p":1.23308},{"i":228.6,"p":1.23318},{"i":229.6,"p":1.2333},{"i":231.1,"p":1.23355},{"i":233.0,"p":1.23375},{"i":235.0,"p":1.23401},{"i":236.4,"p":1.23422},{"i":237.9,"p":1.2344},{"i":239.1,"p":1.23447},{"i":240.3,"p":1.23446},{"i":241.8,"p":1.23443},{"i":243.7,"p":1.23439},{"i":245.7,"p":1.23429},{"i":247.7,"p":1.23411},{"i":249.6,"p":1.23396},{"i":251.6,"p":1.23382},{"i":253.3,"p":1.23368}
],
"cyan":[
{"i":18.9,"p":1.21441},{"i":27.6,"p":1.21644},{"i":40.8,"p":1.21938},{"i":44.0,"p":1.22003},{"i":47.4,"p":1.22073},{"i":51.3,"p":1.22162},{"i":54.7,"p":1.22237},{"i":58.2,"p":1.22307},{"i":61.1,"p":1.22382},{"i":63.5,"p":1.22447},{"i":65.5,"p":1.22501},{"i":66.7,"p":1.22535},{"i":69.6,"p":1.22609},{"i":73.5,"p":1.22678},{"i":77.4,"p":1.22746},{"i":80.8,"p":1.22809},{"i":83.3,"p":1.22844},{"i":86.2,"p":1.22877},{"i":89.1,"p":1.22913},{"i":92.1,"p":1.22946},{"i":95.0,"p":1.22991},{"i":97.7,"p":1.23059},{"i":102.3,"p":1.23125},{"i":104.2,"p":1.23163},{"i":106.7,"p":1.23212},{"i":108.6,"p":1.23253},{"i":110.1,"p":1.23285},{"i":111.6,"p":1.2331},{"i":114.0,"p":1.23334},{"i":116.4,"p":1.23355},{"i":118.4,"p":1.2337},{"i":121.3,"p":1.23375},{"i":124.2,"p":1.23376},{"i":127.2,"p":1.23373},{"i":129.9,"p":1.23375},{"i":131.5,"p":1.2339},{"i":134.5,"p":1.23399},{"i":136.9,"p":1.23404},{"i":138.9,"p":1.23419},{"i":141.8,"p":1.23444},{"i":144.2,"p":1.23466},{"i":146.7,"p":1.23484},{"i":149.1,"p":1.23498},{"i":151.5,"p":1.23517},{"i":154.0,"p":1.23539},{"i":156.4,"p":1.23545},{"i":159.3,"p":1.23554},{"i":162.0,"p":1.23563},{"i":165.2,"p":1.23566},{"i":167.2,"p":1.23563},{"i":169.1,"p":1.23557},{"i":171.1,"p":1.23549},{"i":173.0,"p":1.23543},{"i":175.4,"p":1.23537},{"i":177.9,"p":1.23529},{"i":180.8,"p":1.23519},{"i":183.3,"p":1.23514},{"i":185.7,"p":1.23505},{"i":188.6,"p":1.23497},{"i":191.1,"p":1.23489},{"i":193.8,"p":1.23466},{"i":196.4,"p":1.23448},{"i":199.4,"p":1.23429},{"i":202.3,"p":1.23411},{"i":204.7,"p":1.23394},{"i":207.2,"p":1.23368},{"i":209.6,"p":1.23347},{"i":212.0,"p":1.23332},{"i":214.5,"p":1.23315},{"i":216.4,"p":1.23301},{"i":218.9,"p":1.23294},{"i":221.8,"p":1.2329},{"i":224.7,"p":1.2329},{"i":226.4,"p":1.23292},{"i":227.2,"p":1.23298},{"i":228.6,"p":1.23311},{"i":230.6,"p":1.23323},{"i":232.5,"p":1.23337},{"i":234.5,"p":1.23351},{"i":236.4,"p":1.23368},{"i":238.4,"p":1.23376},{"i":240.3,"p":1.23386},{"i":242.3,"p":1.23394},{"i":244.2,"p":1.23396},{"i":246.2,"p":1.23399},{"i":248.1,"p":1.23401},{"i":250.1,"p":1.23402},{"i":253.1,"p":1.23404}
],
"fracBlue":[
{"i":196.0,"i2":212.1,"p":1.22329},{"i":205.0,"i2":221.1,"p":1.2394},{"i":207.5,"i2":222.2,"p":1.2274},{"i":223.2,"i2":239.1,"p":1.24828}
],
"fracGreen":[
{"i":202.0,"i2":206.1,"p":1.22357},{"i":211.1,"i2":215.1,"p":1.23905},{"i":213.1,"i2":217.2,"p":1.22779},{"i":229.1,"i2":233.1,"p":1.24795},{"i":230.0,"i2":234.1,"p":1.23678},{"i":234.1,"i2":238.1,"p":1.24274},{"i":238.1,"i2":242.2,"p":1.22921},{"i":243.1,"i2":247.2,"p":1.23401},{"i":243.1,"i2":247.2,"p":1.22811},{"i":247.2,"i2":251.2,"p":1.23351}
],
"tags":[
{"p":1.25694,"k":"level"},{"p":1.25558,"k":"level"},{"p":1.24765,"k":"level"},{"p":1.24215,"k":"zone"},{"p":1.23719,"k":"zone"},{"p":1.23311,"k":"level"},{"p":1.23158,"k":"bid"},{"p":1.2284,"k":"zone"},{"p":1.22395,"k":"level"},{"p":1.2154,"k":"level"}
]
},
"layer":[
{"data":{"name":"candles"},
 "mark":{"type":"rule","color":"#8a8a8a","strokeWidth":1},
 "encoding":{
  "x":{"field":"i","type":"quantitative","title":null,"scale":{"domain":[-0.366,284.05],"nice":false,"zero":false},
    "axis":{"orient":"bottom","values":[0,12,24,36,48,60,72,84,96,108,120,132,144,156,168,180,192,204,216,228,240,252],
      "labelExpr":"['31 Jan 2018','2 Feb 20:00','6 Feb 20:00','8 Feb 20:00','12 Feb 20:00','14 Feb 20:00','16 Feb 20:00','20 Feb 20:00','22 Feb 20:00','26 Feb 20:00','28 Feb 20:00','2 Mar 20:00','6 Mar 20:00','8 Mar 20:00','12 Mar 20:00','14 Mar 20:00','16 Mar 20:00','20 Mar 20:00','22 Mar 20:00','26 Mar 20:00','28 Mar 20:00','30 Mar 20:00'][round(datum.value/12)]",
      "labelAlign":"left","labelBaseline":"top","labelOffset":-1,"labelPadding":1,"labelFont":"DejaVu Sans","labelFontSize":10,"labelColor":"#000000","tickSize":4,"tickColor":"#808080","domainColor":"#808080","grid":false,"labelOverlap":false,"labelBound":false,"labelFlush":false,"title":null}},
  "y":{"field":"l","type":"quantitative","title":null,"scale":{"domain":[1.21435,1.25773],"nice":false,"zero":false},
   "axis":{"orient":"right","values":[1.25695,1.25515,1.25335,1.25155,1.24975,1.24795,1.2462,1.2444,1.2426,1.2408,1.239,1.2372,1.2354,1.2336,1.2318,1.23,1.2282,1.2264,1.2246,1.2228,1.221,1.2192,1.2174,1.2156],
     "format":".5f","labelFont":"DejaVu Sans","labelFontSize":10,"labelColor":"#000000","tickSize":3,"tickColor":"#808080","labelPadding":3,"domainColor":"#808080","grid":false,"labelOverlap":false,"labelBound":false,"title":null}},
  "y2":{"field":"h"}}},
{"data":{"values":[{"p":1.25694},{"p":1.25558},{"p":1.24765},{"p":1.22395},{"p":1.2154}]},
 "mark":{"type":"rule","color":"#F47F7F","strokeWidth":1},
 "encoding":{"y":{"field":"p","type":"quantitative","title":null,"scale":{"domain":[1.21435,1.25773],"nice":false,"zero":false}}}},
{"data":{"values":[{"p":1.23311},{"p":1.22846}]},
 "mark":{"type":"rule","color":"#F06060","strokeWidth":1,"strokeDash":[2,2]},
 "encoding":{"y":{"field":"p","type":"quantitative","title":null,"scale":{"domain":[1.21435,1.25773],"nice":false,"zero":false}}}},
{"data":{"values":[{"p":1.24777},{"p":1.2283}]},
 "mark":{"type":"rule","color":"#FF9CFF","strokeWidth":1.5,"strokeDash":[9,5]},
 "encoding":{"y":{"field":"p","type":"quantitative","title":null,"scale":{"domain":[1.21435,1.25773],"nice":false,"zero":false}}}},
{"data":{"values":[{"p":1.24215},{"p":1.23719}]},
 "mark":{"type":"rule","color":"#FFD3DB","strokeWidth":1},
 "encoding":{"y":{"field":"p","type":"quantitative","title":null,"scale":{"domain":[1.21435,1.25773],"nice":false,"zero":false}}}},
{"data":{"values":[{"p":1.23158}]},
 "mark":{"type":"rule","color":"#D3D3D3","strokeWidth":1},
 "encoding":{"y":{"field":"p","type":"quantitative","title":null,"scale":{"domain":[1.21435,1.25773],"nice":false,"zero":false}}}},
{"data":{"name":"candles"},
 "mark":{"type":"rule","color":"#8a8a8a","strokeWidth":1},
 "encoding":{
  "x":{"field":"i","type":"quantitative","title":null,"scale":{"domain":[-0.366,284.05],"nice":false,"zero":false}},
  "y":{"field":"l","type":"quantitative","title":null,"scale":{"domain":[1.21435,1.25773],"nice":false,"zero":false}},
  "y2":{"field":"h"}}},
{"data":{"name":"candles"},
 "mark":{"type":"bar","width":4,"strokeWidth":1},
 "encoding":{
  "x":{"field":"i","type":"quantitative","title":null,"scale":{"domain":[-0.366,284.05],"nice":false,"zero":false}},
  "y":{"field":"o","type":"quantitative","title":null,"scale":{"domain":[1.21435,1.25773],"nice":false,"zero":false}},
  "y2":{"field":"c"},
  "fill":{"condition":{"test":"datum.c >= datum.o","value":"#ffffff"},"value":"#000000"},
  "stroke":{"condition":{"test":"datum.c >= datum.o","value":"#8a8a8a"},"value":"#000000"}}},
{"data":{"name":"cyan"},
 "mark":{"type":"line","color":"#00F0F0","strokeWidth":1.7,"clip":true},
 "encoding":{"x":{"field":"i","type":"quantitative","title":null,"scale":{"domain":[-0.366,284.05],"nice":false,"zero":false}},
  "y":{"field":"p","type":"quantitative","title":null,"scale":{"domain":[1.21435,1.25773],"nice":false,"zero":false}}}},
{"data":{"name":"red"},
 "mark":{"type":"line","color":"#FF0000","strokeWidth":1.6},
 "encoding":{"x":{"field":"i","type":"quantitative","title":null,"scale":{"domain":[-0.366,284.05],"nice":false,"zero":false}},
  "y":{"field":"p","type":"quantitative","title":null,"scale":{"domain":[1.21435,1.25773],"nice":false,"zero":false}}}},
{"data":{"name":"blue"},
 "mark":{"type":"line","color":"#0000FF","strokeWidth":1.7},
 "encoding":{"x":{"field":"i","type":"quantitative","title":null,"scale":{"domain":[-0.366,284.05],"nice":false,"zero":false}},
  "y":{"field":"p","type":"quantitative","title":null,"scale":{"domain":[1.21435,1.25773],"nice":false,"zero":false}}}},
{"data":{"name":"green"},
 "mark":{"type":"line","color":"#3CB371","strokeWidth":1.2},
 "encoding":{"x":{"field":"i","type":"quantitative","title":null,"scale":{"domain":[-0.366,284.05],"nice":false,"zero":false}},
  "y":{"field":"p","type":"quantitative","title":null,"scale":{"domain":[1.21435,1.25773],"nice":false,"zero":false}}}},
{"data":{"name":"fracBlue"},
 "mark":{"type":"rule","color":"#3535FF","strokeWidth":2},
 "encoding":{"x":{"field":"i","type":"quantitative","title":null,"scale":{"domain":[-0.366,284.05],"nice":false,"zero":false}},
  "x2":{"field":"i2"},
  "y":{"field":"p","type":"quantitative","title":null,"scale":{"domain":[1.21435,1.25773],"nice":false,"zero":false}}}},
{"data":{"name":"fracGreen"},
 "mark":{"type":"rule","color":"#3CB371","strokeWidth":1.6},
 "encoding":{"x":{"field":"i","type":"quantitative","title":null,"scale":{"domain":[-0.366,284.05],"nice":false,"zero":false}},
  "x2":{"field":"i2"},
  "y":{"field":"p","type":"quantitative","title":null,"scale":{"domain":[1.21435,1.25773],"nice":false,"zero":false}}}},
{"data":{"name":"tags"},
 "mark":{"type":"bar","height":14},
 "encoding":{"x":{"datum":284.25,"type":"quantitative","title":null,"scale":{"domain":[-0.366,284.05],"nice":false,"zero":false}},
  "x2":{"datum":291.7},
  "y":{"field":"p","type":"quantitative","title":null,"scale":{"domain":[1.21435,1.25773],"nice":false,"zero":false}},
  "color":{"field":"k","type":"nominal","scale":{"domain":["level","zone","bid"],"range":["#FF0000","#FFB6C1","#000000"]},"legend":null}}},
{"data":{"name":"tags"},
 "mark":{"type":"text","align":"left","baseline":"middle","font":"DejaVu Sans","fontSize":10,"color":"#ffffff"},
 "encoding":{"x":{"datum":285.0,"type":"quantitative","title":null,"scale":{"domain":[-0.366,284.05],"nice":false,"zero":false}},
  "y":{"field":"p","type":"quantitative","title":null,"scale":{"domain":[1.21435,1.25773],"nice":false,"zero":false}},
  "text":{"field":"p","type":"quantitative","format":".5f"}}},
{"data":{"values":[{"t":"EURUSD,H4\u00a0 1.23191 1.23225 1.23142 1.23158"}]},
 "mark":{"type":"text","align":"left","baseline":"middle","font":"DejaVu Sans","fontSize":10,"color":"#000000"},
 "encoding":{"x":{"datum":2.2,"type":"quantitative","title":null,"scale":{"domain":[-0.366,284.05],"nice":false,"zero":false}},
  "y":{"datum":1.25726,"type":"quantitative","title":null,"scale":{"domain":[1.21435,1.25773],"nice":false,"zero":false}},
  "text":{"field":"t","type":"nominal"}}},
{"data":{"values":[{"s":"header"}]},
 "mark":{"type":"point","shape":"triangle-down","filled":true,"size":22,"color":"#000000","opacity":1},
 "encoding":{"x":{"datum":0.4,"type":"quantitative","title":null,"scale":{"domain":[-0.366,284.05],"nice":false,"zero":false}},
  "y":{"datum":1.25727,"type":"quantitative","title":null,"scale":{"domain":[1.21435,1.25773],"nice":false,"zero":false}}}},
{"data":{"values":[{"s":"shift"}]},
 "mark":{"type":"point","shape":"triangle-down","filled":true,"size":45,"color":"#A8A8A8","opacity":1},
 "encoding":{"x":{"datum":255.7,"type":"quantitative","title":null,"scale":{"domain":[-0.366,284.05],"nice":false,"zero":false}},
  "y":{"datum":1.25756,"type":"quantitative","title":null,"scale":{"domain":[1.21435,1.25773],"nice":false,"zero":false}}}}
]
}
